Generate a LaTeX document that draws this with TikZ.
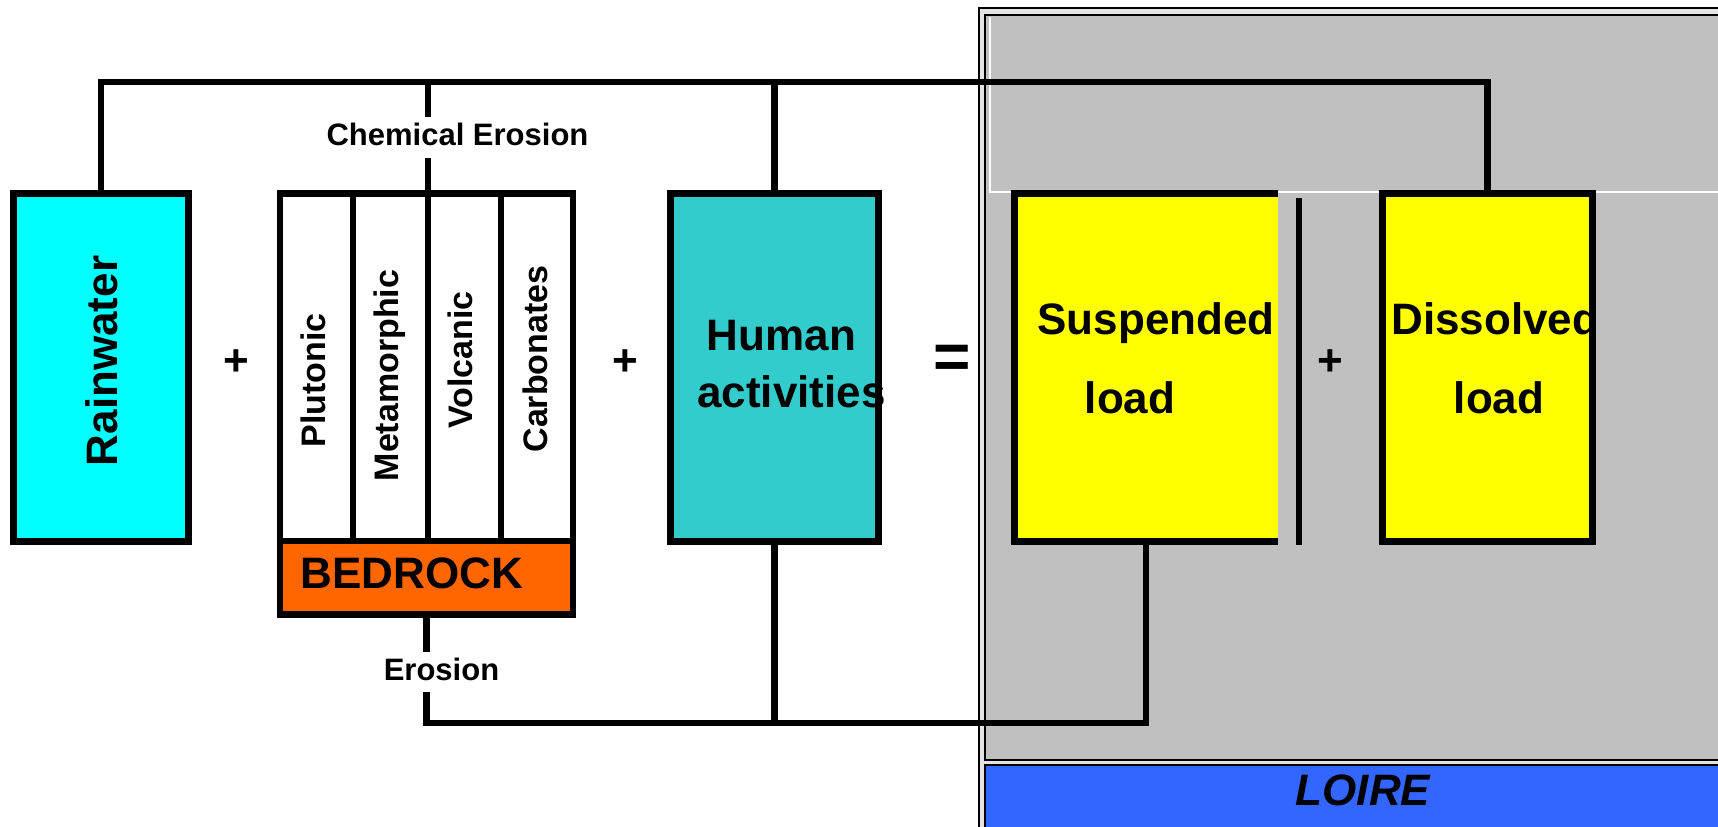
\documentclass[tikz,border=0pt]{standalone}
\usepackage{fontspec}
\setmainfont{Liberation Sans}
\definecolor{rainc}{HTML}{00FFFF}
\definecolor{humanc}{HTML}{33CCCC}
\definecolor{rockc}{HTML}{FF6600}
\definecolor{loadc}{HTML}{FFFF00}
\definecolor{grayreg}{HTML}{C0C0C0}
\definecolor{gapc}{HTML}{E4E4E4}
\definecolor{loirec}{HTML}{3366FF}
\begin{document}
\begin{tikzpicture}[x=0.5pt,y=-0.5pt,
  box/.style={draw=black, line width=3.4pt, rectangle, inner sep=0pt, outer sep=0pt},
  conn/.style={line width=3.4pt},
  thin/.style={line width=1pt},
  big/.style={font=\fontsize{22}{26}\selectfont\bfseries, inner sep=0pt},
  rock/.style={font=\fontsize{17}{20}\selectfont\bfseries, inner sep=0pt, rotate=90, anchor=base},
  small/.style={font=\fontsize{15.5}{18}\selectfont\bfseries, inner sep=0pt, anchor=base}]
\useasboundingbox (0,0) rectangle (1718,826);
\clip (0,0) rectangle (1718,826);
% river region
\fill[gapc] (979,8) rectangle (1740,850);
\draw[thin] (1740,8) -- (979,8) -- (979,850);
\filldraw[thin, fill=grayreg] (985,15) rectangle (1740,760);
\draw[white, thin] (990,17) -- (990,192) -- (1740,192);
\filldraw[thin, fill=loirec] (985,765) rectangle (1740,850);
\node[big, font=\fontsize{22}{26}\selectfont\bfseries\itshape, anchor=base] (loire) at (1363,805) {LOIRE};
% boxes
\node[box, fill=rainc, minimum width=87.5pt, minimum height=174pt] (rain) at (101,367.5) {};
\node[box, fill=white, minimum width=36.5pt, minimum height=173.75pt] (plut) at (316.5,367.25) {};
\node[box, fill=white, minimum width=37.5pt, minimum height=173.75pt] (meta) at (390.5,367.25) {};
\node[box, fill=white, minimum width=36.5pt, minimum height=173.75pt] (volc) at (464.5,367.25) {};
\node[box, fill=white, minimum width=36pt, minimum height=173.75pt] (carb) at (537,367.25) {};
\node[box, fill=rockc, minimum width=146.5pt, minimum height=36.75pt] (bedrock) at (426.5,577.75) {};
\node[box, fill=humanc, minimum width=104pt, minimum height=174pt] (human) at (774.5,367.5) {};
\node[rectangle, fill=loadc, inner sep=0pt, outer sep=0pt, minimum width=131.5pt, minimum height=174pt] (susp) at (1146,367.5) {};
\draw[conn] (susp.north east) -- (susp.north west) -- (susp.south west) -- (susp.south east);
\node[box, fill=loadc, minimum width=105pt, minimum height=174pt] (diss) at (1487.5,367.5) {};
\coordinate (bt) at (1299,198);
\coordinate (bb) at (1299,545);
\draw[conn] (bt) -- (bb);
% connectors
\coordinate (ytop) at (0,82);
\coordinate (ybot) at (0,723);
\draw[conn] (rain.north) -- (rain.north |- ytop) -- (diss.north |- ytop) -- (diss.north);
\draw[conn] (human.north) -- (human.north |- ytop);
\draw[conn] (meta.north east) -- ++(0,-35.5);
\draw[conn] (meta.north east |- ytop) -- ++(0,35);
\draw[conn] (bedrock.south) -- ++(0,37.5);
\path (bedrock.south) ++(0,77.5) coordinate (e2);
\draw[conn] (e2) -- (e2 |- ybot) -- (susp.south |- ybot) -- (susp.south);
\draw[conn] (human.south) -- (human.south |- ybot);
% texts
\node[big, rotate=90, anchor=base] (train) at (117,361) {Rainwater};
\node[rock] (tplut) at (325.5,380.5) {Plutonic};
\node[rock] (tmeta) at (398,375.5) {Metamorphic};
\node[rock] (tvolc) at (472,360) {Volcanic};
\node[rock] (tcarb) at (547,359) {Carbonates};
\node[big, anchor=base] (tbed) at (412,588) {BEDROCK};
\node[big, anchor=base] (thum1) at (781.5,350) {Human};
\node[big, anchor=base] (thum2) at (791.5,407) {activities};
\node[big, anchor=base] (tsus1) at (1156,334) {Suspended};
\node[big, anchor=base] (tsus2) at (1130,413) {load};
\node[big, anchor=base west] (tdis1) at (1391,334) {Dissolved};
\node[big, anchor=base] (tdis2) at (1499,413) {load};
\node[small] (tchem) at (457.5,145) {Chemical Erosion};
\node[small] (teros) at (441.5,680) {Erosion};
\node[big] (plus1) at (236.7,362.7) {+};
\node[big] (plus2) at (625.7,362.7) {+};
\node[big] (plus3) at (1330.5,362.7) {+};
\node[font=\fontsize{32}{36}\selectfont\bfseries, inner sep=0pt] (eq) at (951.7,362) {=};
\end{tikzpicture}
\end{document}
